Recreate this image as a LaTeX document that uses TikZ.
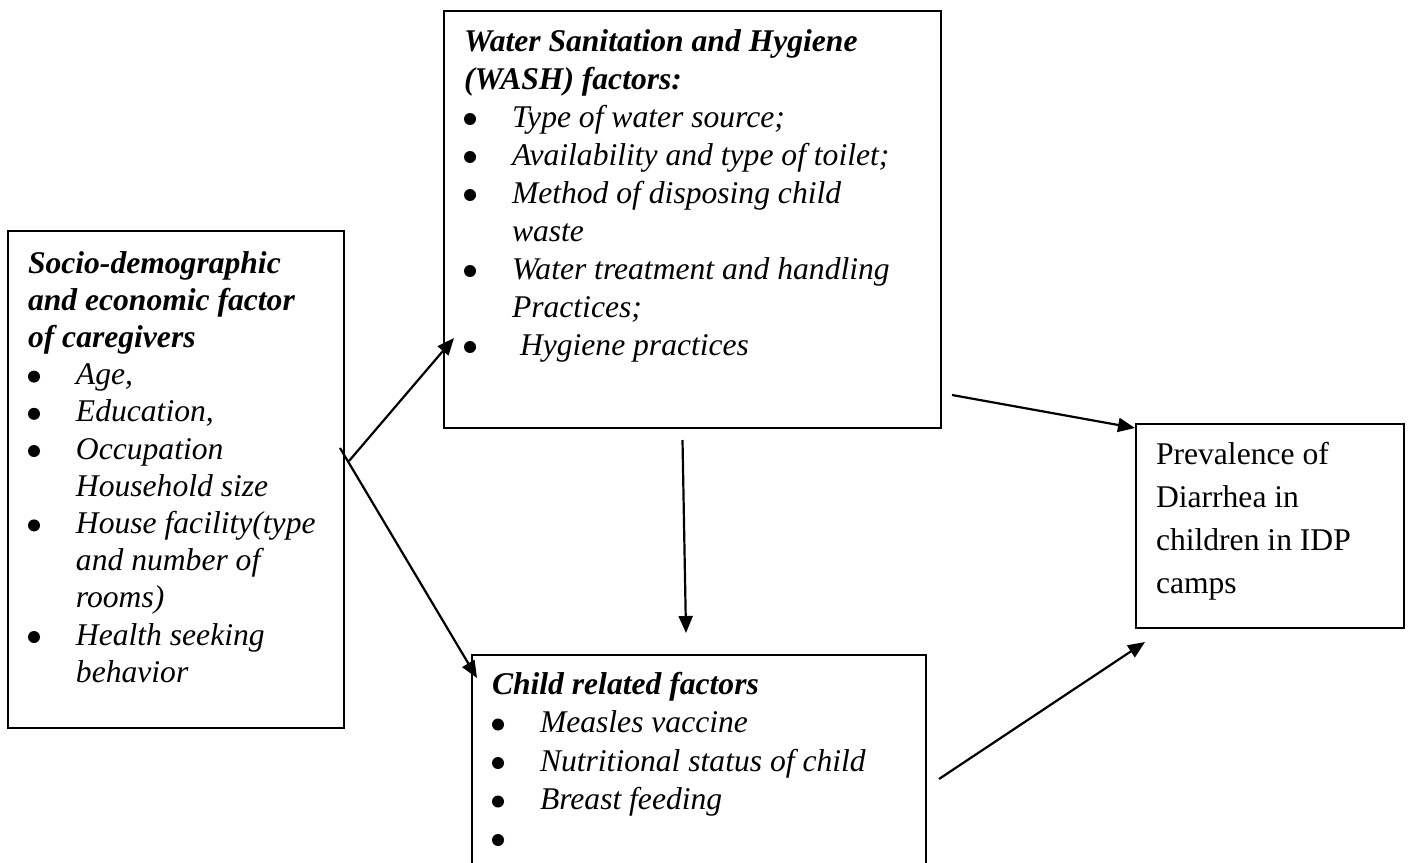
\documentclass[tikz,border=0pt]{standalone}
\usepackage{fontspec}
\setmainfont{Liberation Serif}
\usepackage{tikz}
\usetikzlibrary{calc}
\usetikzlibrary{arrows.meta}
\tikzset{>={Triangle[length=8.5pt,width=7pt]}}
\newlength{\bind}
\setlength{\bind}{24pt}
\newcommand{\bdot}{\tikz[x=1pt,y=1pt,baseline=-4pt]\fill (0,0) circle (3);}
\newcommand{\bitem}[1]{\par\noindent\hangindent=\bind\hangafter=1\makebox[\bind][l]{\hspace{0pt}\bdot}#1}
\newcommand{\boxtext}[5]{\parbox[t][#2][t]{#1}{\fontsize{15.8pt}{#3}\selectfont\raggedright\rule{0pt}{#4}#5}}

\begin{document}
\begin{tikzpicture}[x=0.5pt, y=-0.5pt,
		box/.style={draw, line width=1pt, anchor=north west, inner xsep=10pt, inner ysep=0pt},
		arr/.style={->, line width=1.1pt}]
	\useasboundingbox (0,0) rectangle (1408,862);
	\node[box] (sdf) at (7,230) {\boxtext{148pt}{248.5pt}{18.6pt}{21pt}{\itshape
		{\bfseries Socio-demographic\newline and economic factor\newline of caregivers}%
		\bitem{Age,}\bitem{Education,}\bitem{Occupation\newline Household size}%
		\bitem{House facility(type\newline and number of\newline rooms)}%
		\bitem{Health seeking\newline behavior}}};
	\node[box] (wash) at (443,10) {\boxtext{228.5pt}{208.5pt}{19pt}{20pt}{\itshape
		{\bfseries Water Sanitation and Hygiene\newline (WASH) factors:}%
		\bitem{Type of water source;}\bitem{Availability and type of toilet;}%
		\bitem{Method of disposing child\newline waste}%
		\bitem{Water treatment and handling\newline Practices;}%
		\bitem{\hspace{4pt}Hygiene practices}}};
	\node[box] (child) at (471,654) {\boxtext{207pt}{106pt}{19.25pt}{19.5pt}{\itshape
		{\bfseries Child related factors}%
		\bitem{Measles vaccine}\bitem{Nutritional status of child}\bitem{Breast feeding}\bitem{}}};
	\node[box] (prev) at (1135,423) {\boxtext{114pt}{102pt}{21.5pt}{20pt}{%
		Prevalence of\newline Diarrhea in\newline children in IDP\newline camps}};
	\draw [arr] ($(sdf.north east)+(4,231)$) -- ($(wash.north west)+(11,328)$);
	\draw [arr] ($(sdf.north east)+(-5,218)$) -- ($(child.north west)+(6,24)$);
	\draw [arr] ($(wash.south)+(-10,11)$) -- ($(child.north)+(-13,-21)$);
	\draw [arr] ($(wash.south east)+(10,-34)$) -- ($(prev.north west)+(0,5)$);
	\draw [arr] ($(child.east)+(12,18)$) -- ($(prev.south west)+(10,13)$);
\end{tikzpicture}
\end{document}
